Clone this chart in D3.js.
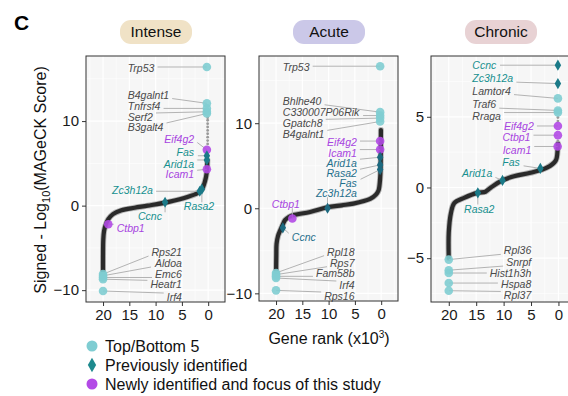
<!DOCTYPE html>
<html>
<head>
<meta charset="utf-8">
<script src="https://cdn.jsdelivr.net/npm/d3@7"></script>
<style>
  body { margin: 0; background: #fff; }
  svg { display: block; font-family: "Liberation Sans", Arial, sans-serif; }
</style>
</head>
<body>
<div id="chart"></div>
<script>
// ---- data (rank in x10^3, signed -log10 MAGeCK score) ----
const panelNames = ["Intense", "Acute", "Chronic"];
const rankTicks = [20, 15, 10, 5, 0];
const scoreTicks = [[-10, 0, 10], [-10, 0, 10], [-5, 0, 5]];

// points
const intenseCurve = [[20, -8.4], [20, -6], [19.95, -4], [19.8, -3], [19.5, -2.3], [19.0, -1.6], [18.1, -1.0],
  [16.5, -0.55], [14, -0.25], [11.5, 0.0], [7.5, 0.45], [3.8, 1.05], [2.0, 1.5], [1.2, 1.9], [0.6, 2.9], [0.3, 3.8], [0.15, 5.4]];
const acuteCurve = [[20, -7.9], [19.95, -5.5], [19.9, -4.2], [19.6, -3.2], [19.2, -2.6], [18.7, -1.9], [18.3, -1.4],
  [17.5, -1.0], [16.7, -0.8], [13.5, -0.43], [10.3, 0.1], [7.5, 0.35], [5.3, 0.55], [2.1, 1.1], [1.0, 1.6], [0.5, 2.1],
  [0.2, 3.5], [0.1, 5], [0.05, 9.2]];
const chronicCurve = [[20, -5.0], [20, -3.2], [19.6, -1.8], [19.0, -1.1], [17.2, -0.73], [14.8, -0.38], [13.3, -0.3],
  [12.8, -0.15], [12.3, 0.0], [10.5, 0.45], [8.1, 0.8], [5.1, 1.04], [2.1, 1.4], [0.5, 1.9], [0.15, 2.7], [0.08, 3.1]];

// sparse single genes above the curve near rank 0
const intenseSparse = [7.3, 7.7, 8.1, 8.5, 8.9, 9.3, 9.7, 10.1, 10.4];
const acuteSparse = [];
const chronicSparse = [3.3, 4.7, 4.95];

// [gene, rank, score, group]  group: top = Top/Bottom 5, prev = previously identified, new = newly identified
const intenseGenes = [
  ["Trp53", 0.25, 16.4, "top"], ["B4galnt1", 0.25, 12.1, "top"], ["Tnfrsf4", 0.25, 11.5, "top"],
  ["Serf2", 0.25, 11.1, "top"], ["B3galt4", 0.25, 10.9, "top"], ["Eif4g2", 0.25, 6.6, "new"],
  ["Fas", 0.25, 5.9, "prev"], ["Arid1a", 0.25, 5.4, "prev"], ["Icam1", 0.25, 4.3, "new"],
  ["Zc3h12a", 1.6, 1.7, "prev"], ["Rasa2", 1.2, 1.95, "prev"], ["Ccnc", 8.2, 0.4, "prev"],
  ["Ctbp1", 19.0, -2.2, "new"], ["Rps21", 20, -8.1, "top"], ["Aldoa", 20, -8.3, "top"],
  ["Emc6", 20, -8.5, "top"], ["Heatr1", 20, -8.7, "top"], ["Irf4", 20, -10.1, "top"]
];
const acuteGenes = [
  ["Trp53", 0.2, 16.7, "top"], ["Bhlhe40", 0.2, 11.3, "top"], ["C330007P06Rik", 0.2, 10.9, "top"],
  ["Gpatch8", 0.2, 10.6, "top"], ["B4galnt1", 0.2, 10.2, "top"], ["Eif4g2", 0.2, 7.9, "new"],
  ["Icam1", 0.2, 6.9, "new"], ["Arid1a", 0.2, 6.0, "prev"], ["Rasa2", 0.2, 5.1, "prev"],
  ["Fas", 0.2, 4.55, "prev"], ["Zc3h12a", 10.2, 0.0, "prev"], ["Ctbp1", 16.9, -1.2, "new"],
  ["Ccnc", 18.7, -2.3, "prev"], ["Rpl18", 20, -7.6, "top"], ["Rps7", 20, -7.8, "top"],
  ["Fam58b", 20, -8.0, "top"], ["Irf4", 20, -8.2, "top"], ["Rps16", 20, -9.65, "top"]
];
const chronicGenes = [
  ["Ccnc", 0.1, 8.65, "prev"], ["Zc3h12a", 0.1, 7.35, "prev"], ["Lamtor4", 0.1, 6.3, "top"],
  ["Traf6", 0.1, 5.45, "top"], ["Rraga", 0.1, 5.3, "top"], ["Eif4g2", 0.1, 4.35, "new"],
  ["Ctbp1", 0.1, 3.7, "new"], ["Icam1", 0.15, 2.9, "new"], ["Fas", 3.3, 1.35, "prev"],
  ["Arid1a", 10.2, 0.5, "prev"], ["Rasa2", 14.7, -0.38, "prev"], ["Rpl36", 20, -5.1, "top"],
  ["Snrpf", 20, -5.85, "top"], ["Hist1h3h", 20, -6.05, "top"], ["Hspa8", 20, -6.76, "top"],
  ["Rpl37", 20, -7.3, "top"]
];

const legendItems = ["Top/Bottom 5", "Previously identified", "Newly identified and focus of this study"];

// ---- layout ----
// label anchor for each gene, in data units: [rank, score, text-anchor]
const intenseLabels = [
  [15.3, 16.3, "start"], [15.3, 13.1, "start"], [15.3, 11.7, "start"], [15.3, 10.45, "start"], [15.3, 9.27, "start"],
  [2.67, 7.9, "end"], [2.67, 6.3, "end"], [2.67, 4.93, "end"], [2.67, 3.67, "end"],
  [10.5, 1.78, "end"], [-1.14, -0.12, "end"], [8.8, -1.3, "end"], [17.4, -2.69, "start"],
  [5.0, -5.53, "end"], [5.0, -6.83, "end"], [5.0, -8.08, "end"], [5.0, -9.35, "end"], [5.0, -10.85, "end"]
];
const acuteLabels = [
  [18.7, 16.6, "start"], [18.7, 12.6, "start"], [18.7, 11.3, "start"], [18.7, 9.95, "start"], [18.7, 8.65, "start"],
  [4.63, 7.8, "end"], [4.63, 6.5, "end"], [4.63, 5.26, "end"], [4.63, 4.08, "end"], [4.63, 2.9, "end"],
  [4.63, 1.73, "end"], [20.8, 0.44, "start"], [17.0, -3.45, "start"],
  [5.07, -5.14, "end"], [5.07, -6.44, "end"], [5.07, -7.68, "end"], [5.07, -9.06, "end"], [5.07, -10.35, "end"]
];
const chronicLabels = [
  [15.7, 8.65, "start"], [15.7, 7.71, "start"], [15.7, 6.83, "start"], [15.7, 5.87, "start"], [15.7, 5.01, "start"],
  [4.5, 4.35, "end"], [5.1, 3.52, "end"], [4.96, 2.62, "end"], [7.04, 1.79, "end"],
  [17.6, 0.97, "start"], [17.2, -1.51, "start"],
  [4.96, -4.47, "end"], [4.96, -5.3, "end"], [4.96, -6.1, "end"], [4.96, -6.88, "end"], [4.96, -7.66, "end"]
];

const panels = [
  { curve: intenseCurve, sparse: intenseSparse, genes: intenseGenes, labels: intenseLabels,
    left: 86, width: 139, top: 56, bottom: 302, yDomain: [-11.4, 17.7], badge: "#f0e2c6", teal: "#16908f" },
  { curve: acuteCurve, sparse: acuteSparse, genes: acuteGenes, labels: acuteLabels,
    left: 259, width: 139, top: 56, bottom: 301, yDomain: [-10.9, 17.9], badge: "#cbc8e8", teal: "#1f6f8c" },
  { curve: chronicCurve, sparse: chronicSparse, genes: chronicGenes, labels: chronicLabels,
    left: 431, width: 145, top: 56, bottom: 302, yDomain: [-8.1, 9.3], badge: "#e8d2d4", teal: "#16908f" }
];

const colors = { top: "#7fcdd2", prev: "#1b7a88", new: "#b34ae6", newText: "#a744e0", grey: "#4a4a4a", lead: "#b3b3b3" };

const W = 568, H = 396;
const svg = d3.select("#chart").append("svg").attr("width", W).attr("height", H);

svg.append("text").attr("x", 14).attr("y", 30)
  .attr("font-size", 21).attr("font-weight", "bold").text("C");

panels.forEach((p, i) => {
  const x = d3.scaleLinear().domain([23.24, -3.2]).range([p.left, p.left + p.width]);
  const y = d3.scaleLinear().domain(p.yDomain).range([p.bottom, p.top]);
  const g = svg.append("g");

  // badge title
  const cx = p.left + 70;
  g.append("rect").attr("x", cx - 36).attr("y", 20).attr("width", 72).attr("height", 24)
    .attr("rx", 11).attr("fill", p.badge);
  g.append("text").attr("x", cx).attr("y", 32).attr("dy", "0.35em").attr("text-anchor", "middle")
    .attr("font-size", 15.5).attr("fill", "#111").text(panelNames[i]);

  // panel background and grid
  g.append("rect").attr("x", p.left).attr("y", p.top).attr("width", p.width).attr("height", p.bottom - p.top)
    .attr("fill", "#f6f6f6");
  const clip = "clip" + i;
  svg.append("clipPath").attr("id", clip).append("rect")
    .attr("x", p.left).attr("y", p.top).attr("width", p.width).attr("height", p.bottom - p.top);
  const grid = g.append("g").attr("clip-path", `url(#${clip})`);
  const yt = scoreTicks[i], step = yt[1] - yt[0];
  const yMinor = d3.range(yt[0] - step * 1.5, yt[2] + step * 2, step);
  grid.selectAll(".ym").data(yMinor).join("line")
    .attr("x1", p.left).attr("x2", p.left + p.width).attr("y1", d => y(d)).attr("y2", d => y(d))
    .attr("stroke", "#fff").attr("stroke-width", 0.6);
  grid.selectAll(".yM").data(yt).join("line")
    .attr("x1", p.left).attr("x2", p.left + p.width).attr("y1", d => y(d)).attr("y2", d => y(d))
    .attr("stroke", "#fff").attr("stroke-width", 1.2);
  grid.selectAll(".xm").data([22.5, 17.5, 12.5, 7.5, 2.5, -2.5]).join("line")
    .attr("y1", p.top).attr("y2", p.bottom).attr("x1", d => x(d)).attr("x2", d => x(d))
    .attr("stroke", "#fff").attr("stroke-width", 0.6);
  grid.selectAll(".xM").data(rankTicks).join("line")
    .attr("y1", p.top).attr("y2", p.bottom).attr("x1", d => x(d)).attr("x2", d => x(d))
    .attr("stroke", "#fff").attr("stroke-width", 1.2);

  // axes
  const ya = g.append("g").attr("transform", `translate(${p.left},0)`)
    .call(d3.axisLeft(y).tickValues(yt).tickSize(4).tickPadding(3));
  const xa = g.append("g").attr("transform", `translate(0,${p.bottom})`)
    .call(d3.axisBottom(x).tickValues(rankTicks).tickSize(4).tickPadding(3));
  [ya, xa].forEach(a => {
    a.select(".domain").remove();
    a.selectAll("line").attr("stroke", "#333");
    a.selectAll("text").attr("font-size", 15).attr("fill", "#1a1a1a").attr("font-family", "Liberation Sans, Arial, sans-serif");
  });

  const plot = g.append("g").attr("clip-path", `url(#${clip})`);

  // ranked curve
  const line = d3.line().x(d => x(d[0])).y(d => y(d[1])).curve(d3.curveCatmullRom.alpha(0.5));
  plot.append("path").datum(p.curve).attr("d", line).attr("fill", "none")
    .attr("stroke", "#666").attr("stroke-width", 6).attr("stroke-opacity", 0.45)
    .attr("stroke-linecap", "round").attr("stroke-linejoin", "round");
  plot.append("path").datum(p.curve).attr("d", line).attr("fill", "none")
    .attr("stroke", "#2a2a2a").attr("stroke-width", 4.2)
    .attr("stroke-linecap", "round").attr("stroke-linejoin", "round");
  plot.selectAll(".sp").data(p.sparse).join("circle")
    .attr("cx", x(0.1)).attr("cy", d => y(d)).attr("r", 1.4).attr("fill", "#9a9a9a");

  // labels first (to measure), then leader lines, markers on top
  const leadG = plot.append("g");
  const markG = g.append("g").attr("clip-path", `url(#${clip})`);
  const labG = g.append("g");
  p.genes.forEach((d, j) => {
    const [lr, ls, anchor] = p.labels[j];
    const fill = d[3] === "new" ? colors.newText : d[3] === "prev" ? p.teal : colors.grey;
    const t = labG.append("text").attr("x", x(lr)).attr("y", y(ls)).attr("dy", "0.35em")
      .attr("text-anchor", anchor).attr("font-size", 10.5).attr("font-style", "italic")
      .attr("fill", fill).text(d[0]);
    const b = t.node().getBBox();
    const mx = x(d[1]), my = y(d[2]);
    const x0 = b.x - 3, x1 = b.x + b.width + 3, y0 = b.y + 2, y1 = b.y + b.height - 2;
    const px = Math.max(x0, Math.min(x1, mx)), py = Math.max(y0, Math.min(y1, my));
    leadG.append("line").attr("x1", px).attr("y1", py).attr("x2", mx).attr("y2", my)
      .attr("stroke", colors.lead).attr("stroke-width", 1);
  });
  p.genes.forEach(d => {
    const mx = x(d[1]), my = y(d[2]);
    if (d[3] === "prev") {
      markG.append("path").attr("transform", `translate(${mx},${my})`)
        .attr("d", d3.symbol(d3.symbolDiamond, 36)()).attr("fill", i === 1 ? "#1d6a80" : colors.prev);
    } else {
      markG.append("circle").attr("cx", mx).attr("cy", my).attr("r", 4.3)
        .attr("fill", d[3] === "new" ? colors.new : colors.top).attr("fill-opacity", 0.9);
    }
  });

  // panel border
  g.append("rect").attr("x", p.left).attr("y", p.top).attr("width", p.width).attr("height", p.bottom - p.top)
    .attr("fill", "none").attr("stroke", "#333").attr("stroke-width", 1);
});

// axis titles
const yTitle = svg.append("text").attr("transform", "translate(46,180) rotate(-90)")
  .attr("text-anchor", "middle").attr("font-size", 16).attr("fill", "#111");
yTitle.append("tspan").text("Signed - Log");
yTitle.append("tspan").attr("font-size", 11).attr("dy", 4).text("10");
yTitle.append("tspan").attr("dy", -4).text("(MAGeCK Score)");

const xTitle = svg.append("text").attr("x", 329).attr("y", 344)
  .attr("text-anchor", "middle").attr("font-size", 16).attr("fill", "#111");
xTitle.append("tspan").text("Gene rank (x10");
xTitle.append("tspan").attr("font-size", 10).attr("dy", -6).text("3");
xTitle.append("tspan").attr("dy", 6).text(")");

// legend
const legend = svg.append("g");
const legendY = d3.scalePoint().domain(legendItems).range([346, 384]);
legendItems.forEach((name, k) => {
  const ly = legendY(name);
  if (k === 1) {
    legend.append("path").attr("transform", `translate(92,${ly})`)
      .attr("d", d3.symbol(d3.symbolDiamond, 60)()).attr("fill", "#1e8a8e");
  } else {
    legend.append("circle").attr("cx", 92).attr("cy", ly).attr("r", 5.5)
      .attr("fill", k === 0 ? colors.top : colors.new);
  }
  legend.append("text").attr("x", 105).attr("y", ly).attr("dy", "0.35em")
    .attr("font-size", 16).attr("fill", "#111").text(name);
});
</script>
</body>
</html>
